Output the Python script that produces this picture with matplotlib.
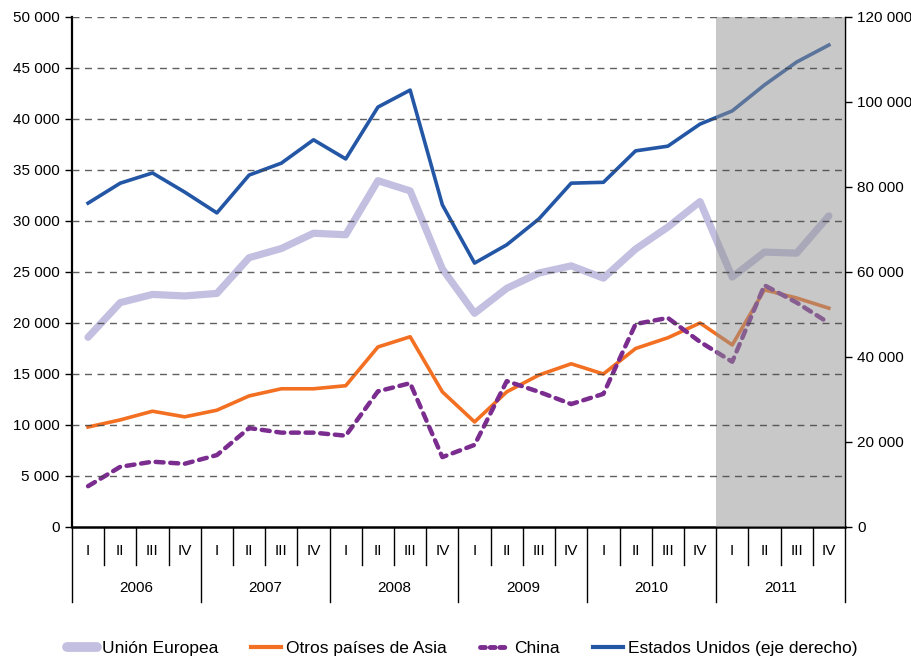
import numpy as np
import matplotlib
matplotlib.use("Agg")
import matplotlib.pyplot as plt
from matplotlib.ticker import FuncFormatter
from matplotlib.lines import Line2D

plt.rcParams['font.family'] = ['Liberation Sans', 'DejaVu Sans']

# Data (quarters 2006 I - 2011 IV)
years = ['2006', '2007', '2008', '2009', '2010', '2011']
quarters = ['I', 'II', 'III', 'IV']

union_europea = [18600, 22000, 22800, 22650, 22900, 26400, 27300, 28800, 28650, 33950, 32950, 25300,
                 20950, 23400, 24900, 25600, 24400, 27250, 29400, 31900, 24500, 26950, 26850, 30500]
otros_asia = [9800, 10500, 11350, 10800, 11450, 12850, 13550, 13550, 13850, 17650, 18650, 13250,
              10300, 13250, 14900, 16000, 15000, 17500, 18550, 20000, 17850, 23250, 22450, 21450]
china = [4000, 5900, 6400, 6200, 7050, 9700, 9250, 9250, 8950, 13300, 14100, 6850,
         8050, 14300, 13250, 12050, 13050, 19900, 20500, 18150, 16200, 23700, 22000, 20000]
estados_unidos = [76200, 80900, 83300, 78800, 73900, 82800, 85600, 91100, 86600, 98800, 102800, 75800,
                  62100, 66400, 72500, 80900, 81100, 88500, 89600, 94800, 97900, 104000, 109400, 113400]

x = np.arange(len(union_europea))

fig = plt.figure(figsize=(9.12, 6.58), dpi=100)
ax = fig.add_axes([0.0789, 0.1991, 0.8476, 0.7751])
ax2 = ax.twinx()

fmt = FuncFormatter(lambda v, p: f"{int(v):,}".replace(",", " "))

ax.set_xlim(-0.5, 23.5)
ax.set_ylim(0, 50000)
ax.set_yticks(np.arange(0, 50001, 5000))
ax.yaxis.set_major_formatter(fmt)
ax2.set_ylim(0, 120000)
ax2.set_yticks(np.arange(0, 120001, 20000))
ax2.yaxis.set_major_formatter(fmt)

for a in (ax, ax2):
    a.tick_params(axis='y', labelsize=11, length=5, width=1, direction='out', pad=4)
    a.spines['top'].set_visible(False)
ax.spines['left'].set_linewidth(1.6)
ax.spines['bottom'].set_linewidth(1.8)
ax2.spines['right'].set_linewidth(1.0)
ax2.spines['left'].set_visible(False)
ax2.spines['bottom'].set_visible(False)

ax.set_xticks([])

# gridlines
for v in np.arange(5000, 50001, 5000):
    ax2.axhline(v * 120000 / 50000, color='#444444', lw=1.0, ls=(0, (5, 4)), zorder=6, alpha=0.85)

ax.patch.set_visible(False)

ax.plot(x, union_europea, color='#C2BFE0', lw=5.2, solid_capstyle='round', solid_joinstyle='round', zorder=3)
ax.plot(x, otros_asia, color='#F36F21', lw=2.6, zorder=3)
ax.plot(x, china, color='#7B2C8F', lw=3.2, ls=(0, (1.8, 1.5)), dash_capstyle='round', zorder=3)
ax2.plot(x, estados_unidos, color='#2356A5', lw=2.6, zorder=3)

# shaded forecast band over the lines
ax2.axvspan(19.5, 23.5, color='#929292', alpha=0.5, lw=0, zorder=4)

# category axis: quarter and year separators
tr = ax.get_xaxis_transform()
for i in range(25):
    b = i - 0.5
    yb = -0.148 if i % 4 == 0 else -0.075
    ax.plot([b, b], [0, yb], color='black', lw=1.0, transform=tr, clip_on=False)
for i in range(24):
    ax.text(i, -0.048, quarters[i % 4], transform=tr, ha='center', va='center', fontsize=11)
for k, yr in enumerate(years):
    ax.text(4 * k + 1.5, -0.12, yr, transform=tr, ha='center', va='center', fontsize=11)

handles = [
    Line2D([], [], color='#C2BFE0', lw=7, solid_capstyle='round'),
    Line2D([], [], color='#F36F21', lw=3),
    Line2D([], [], color='#7B2C8F', lw=3.5, ls=(0, (1, 1)), dash_capstyle='round'),
    Line2D([], [], color='#2356A5', lw=3),
]
labels = ['Unión Europea', 'Otros países de Asia', 'China', 'Estados Unidos (eje derecho)']
fig.legend(handles, labels, loc='center', bbox_to_anchor=(0.507, 0.015), ncol=4, frameon=False,
           fontsize=12.5, handlelength=1.7, handletextpad=0.3, columnspacing=1.9)

plt.savefig('out.png', dpi=100)
plt.close()
